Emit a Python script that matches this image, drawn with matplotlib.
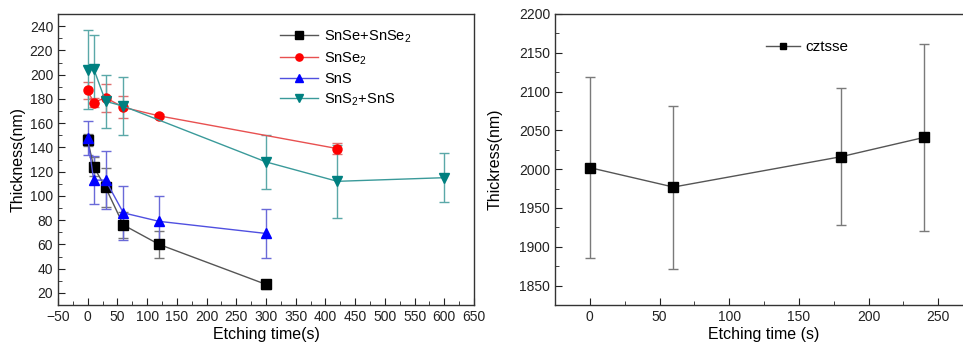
import matplotlib
matplotlib.use("Agg")
import matplotlib.pyplot as plt
from matplotlib.ticker import MultipleLocator

plt.rcParams['font.family'] = ['Liberation Sans', 'DejaVu Sans']
plt.rcParams['mathtext.fontset'] = 'custom'
plt.rcParams['mathtext.rm'] = 'Liberation Sans'

# Left panel: binary tin chalcogenide films
t_snse_snse2 = [0, 10, 30, 60, 120, 300]
y_snse_snse2 = [146, 124, 107, 76, 60, 27]
e_snse_snse2 = [5, 8, 16, 11, 11, 4]

t_snse2 = [0, 10, 30, 60, 120, 420]
y_snse2 = [187, 177, 181, 173, 166, 139]
e_snse2 = [7, 3.5, 11.5, 9, 1.5, 4.5]

t_sns = [0, 10, 30, 60, 120, 300]
y_sns = [148, 113, 113, 86, 79, 69]
e_sns = [14, 19.5, 24, 22, 21, 20]

t_sns2_sns = [0, 10, 30, 60, 300, 420, 600]
y_sns2_sns = [204, 205, 178, 174, 128, 112, 115]
e_sns2_sns = [32.5, 28, 22, 24, 22, 30, 20]

# Right panel: CZTSSe absorber
t_cztsse = [0, 60, 180, 240]
y_cztsse = [2002, 1977, 2016, 2041]
e_cztsse = [117, 105, 88, 120]

fig = plt.figure(figsize=(9.63, 3.43), dpi=100)
W, H = 963, 343

def place(x0, y0, x1, y1):
    return [x0 / W, 1 - y1 / H, (x1 - x0) / W, (y1 - y0) / H]

ax1 = fig.add_axes(place(58, 14, 474, 305))
ax2 = fig.add_axes(place(555, 14, 973, 305))

series = [
    (t_snse_snse2, y_snse_snse2, e_snse_snse2, 's', '#000000', '#555555', '#777777', 'SnSe+SnSe$_2$'),
    (t_snse2, y_snse2, e_snse2, 'o', '#ff0000', '#e85050', '#e07070', 'SnSe$_2$'),
    (t_sns, y_sns, e_sns, '^', '#0000ff', '#5050e0', '#6a6ad8', 'SnS'),
    (t_sns2_sns, y_sns2_sns, e_sns2_sns, 'v', '#008080', '#3a9a9a', '#5aa8a8', 'SnS$_2$+SnS'),
]
for t, y, e, m, mc, lc, ec, lab in series:
    ax1.errorbar(t, y, yerr=e, fmt='none', ecolor=ec, elinewidth=1.0,
                 capsize=3.5, capthick=1.0, zorder=2)
    ax1.plot(t, y, color=lc, lw=1.0, marker=m, ms=6.5, mfc=mc, mec=mc,
             label=lab, zorder=3)

ax1.set_xlim(-50, 650)
ax1.set_ylim(10, 250)
ax1.xaxis.set_major_locator(MultipleLocator(50))
ax1.xaxis.set_minor_locator(MultipleLocator(25))
ax1.yaxis.set_major_locator(MultipleLocator(20))
ax1.yaxis.set_minor_locator(MultipleLocator(10))
ax1.set_xlabel('Etching time(s)', fontsize=11.5, labelpad=2)
ax1.set_ylabel('Thickness(nm)', fontsize=11.5, labelpad=3)
ax1.legend(loc='upper left', bbox_to_anchor=(0.52, 0.97), frameon=False,
           fontsize=10.5, handlelength=2.6, handletextpad=0.4,
           labelspacing=0.35, borderaxespad=0, markerscale=0.8)

ax2.errorbar(t_cztsse, y_cztsse, yerr=e_cztsse, fmt='none', ecolor='#7a7a7a',
             elinewidth=1.0, capsize=3.5, capthick=1.0, zorder=2)
ax2.plot(t_cztsse, y_cztsse, color='#555555', lw=1.0, marker='s', ms=6.5,
         mfc='#000000', mec='#000000', label='cztsse', zorder=3)
ax2.set_xlim(-25, 275)
ax2.set_ylim(1825, 2200)
ax2.xaxis.set_major_locator(MultipleLocator(50))
ax2.xaxis.set_minor_locator(MultipleLocator(25))
ax2.yaxis.set_major_locator(MultipleLocator(50))
ax2.yaxis.set_minor_locator(MultipleLocator(25))
ax2.set_xlabel('Etching time (s)', fontsize=11.5, labelpad=2)
ax2.set_ylabel('Thickress(nm)', fontsize=11.5, labelpad=12)
ax2.legend(loc='upper left', bbox_to_anchor=(0.49, 0.93), frameon=False,
           fontsize=11, handlelength=2.2, handletextpad=0.4,
           borderaxespad=0, markerscale=0.75)

for ax in (ax1, ax2):
    for sp in ax.spines.values():
        sp.set_color('#333333')
        sp.set_linewidth(1.0)
    ax.tick_params(which='both', direction='in', top=False, right=False,
                   labelsize=10, colors='#222222')
    ax.tick_params(which='major', length=5)
    ax.tick_params(which='minor', length=3)

fig.savefig('out.png', dpi=100)
